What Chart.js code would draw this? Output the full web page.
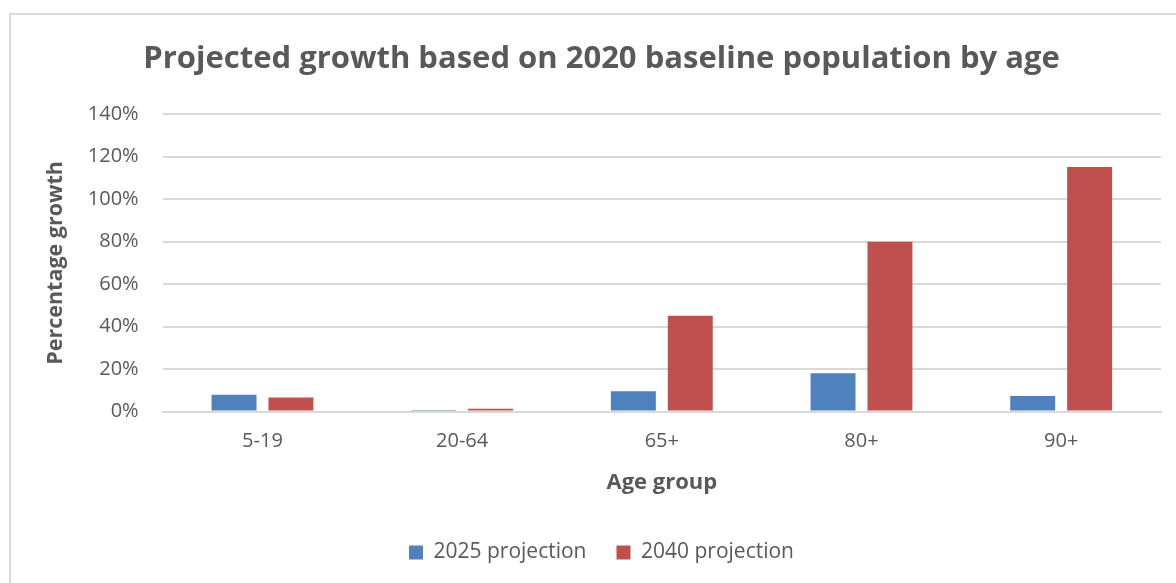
<!DOCTYPE html>
<html lang="en">
<head>
    <meta charset="UTF-8">
    <title>Projected growth based on 2020 baseline population by age</title>
    <style>
        body {
            margin: 0;
            background: #ffffff;
            overflow: hidden;
        }
        #frame {
            position: absolute;
            left: 9px;
            top: 13px;
            width: 1300px;
            height: 700px;
            border: 2px solid #d9d9d9;
        }
        #wrap {
            position: absolute;
            left: 0;
            top: 0;
            width: 1176px;
            height: 583px;
        }
    </style>
    <script src="https://cdn.jsdelivr.net/npm/chart.js"></script>
</head>
<body>
    <div id="frame"></div>
    <div id="wrap"><canvas id="chart"></canvas></div>
    <script>
        // dados (em %)
        const ageGroups = ['5-19', '20-64', '65+', '80+', '90+'];
        const proj2025 = [7.9, 0.8, 9.6, 18.1, 7.3];
        const proj2040 = [6.6, 1.3, 45.1, 80, 115.1];
        const yTicks = [0, 20, 40, 60, 80, 100, 120, 140];

        const textColor = '#595959';
        const fontName = '"Open Sans", Lato, sans-serif';

        new Chart(document.getElementById('chart'), {
            type: 'bar',
            data: {
                labels: ageGroups,
                datasets: [{
                    label: '2025 projection',
                    data: proj2025,
                    backgroundColor: '#4F81BD',
                    borderColor: '#4F81BD',
                    borderWidth: 0,
                    categoryPercentage: 0.57,
                    barPercentage: 0.79
                }, {
                    label: '2040 projection',
                    data: proj2040,
                    backgroundColor: '#C0504D',
                    borderColor: '#C0504D',
                    borderWidth: 0,
                    categoryPercentage: 0.57,
                    barPercentage: 0.79
                }]
            },
            options: {
                responsive: true,
                maintainAspectRatio: false,
                animation: false,
                layout: {
                    padding: { left: 42, right: 15, top: 41, bottom: 10 }
                },
                plugins: {
                    title: {
                        display: true,
                        text: 'Projected growth based on 2020 baseline population by age',
                        color: textColor,
                        font: { family: fontName, size: 31, weight: 'bold' },
                        padding: { top: 0, bottom: 36 }
                    },
                    legend: {
                        position: 'bottom',
                        labels: {
                            color: textColor,
                            font: { family: fontName, size: 21 },
                            boxWidth: 14,
                            boxHeight: 14,
                            padding: 30
                        }
                    },
                    tooltip: { enabled: false }
                },
                scales: {
                    x: {
                        grid: { display: false },
                        border: { color: '#d9d9d9', width: 2 },
                        ticks: {
                            color: textColor,
                            font: { family: fontName, size: 20 },
                            padding: 10
                        },
                        title: {
                            display: true,
                            text: 'Age group',
                            color: textColor,
                            font: { family: fontName, size: 22, weight: 'bold' },
                            padding: { top: 6, bottom: 16 }
                        }
                    },
                    y: {
                        min: 0,
                        max: 140,
                        afterBuildTicks: axis => {
                            axis.ticks = yTicks.map(v => ({ value: v }));
                        },
                        grid: {
                            color: '#d9d9d9',
                            lineWidth: 2,
                            drawTicks: false
                        },
                        border: { display: false },
                        ticks: {
                            color: textColor,
                            font: { family: fontName, size: 20 },
                            padding: 24,
                            callback: v => v + '%'
                        },
                        title: {
                            display: true,
                            text: 'Percentage growth',
                            color: textColor,
                            font: { family: fontName, size: 21.5, weight: 'bold' },
                            padding: { top: 1, bottom: -5 }
                        }
                    }
                }
            }
        });
    </script>
</body>
</html>
